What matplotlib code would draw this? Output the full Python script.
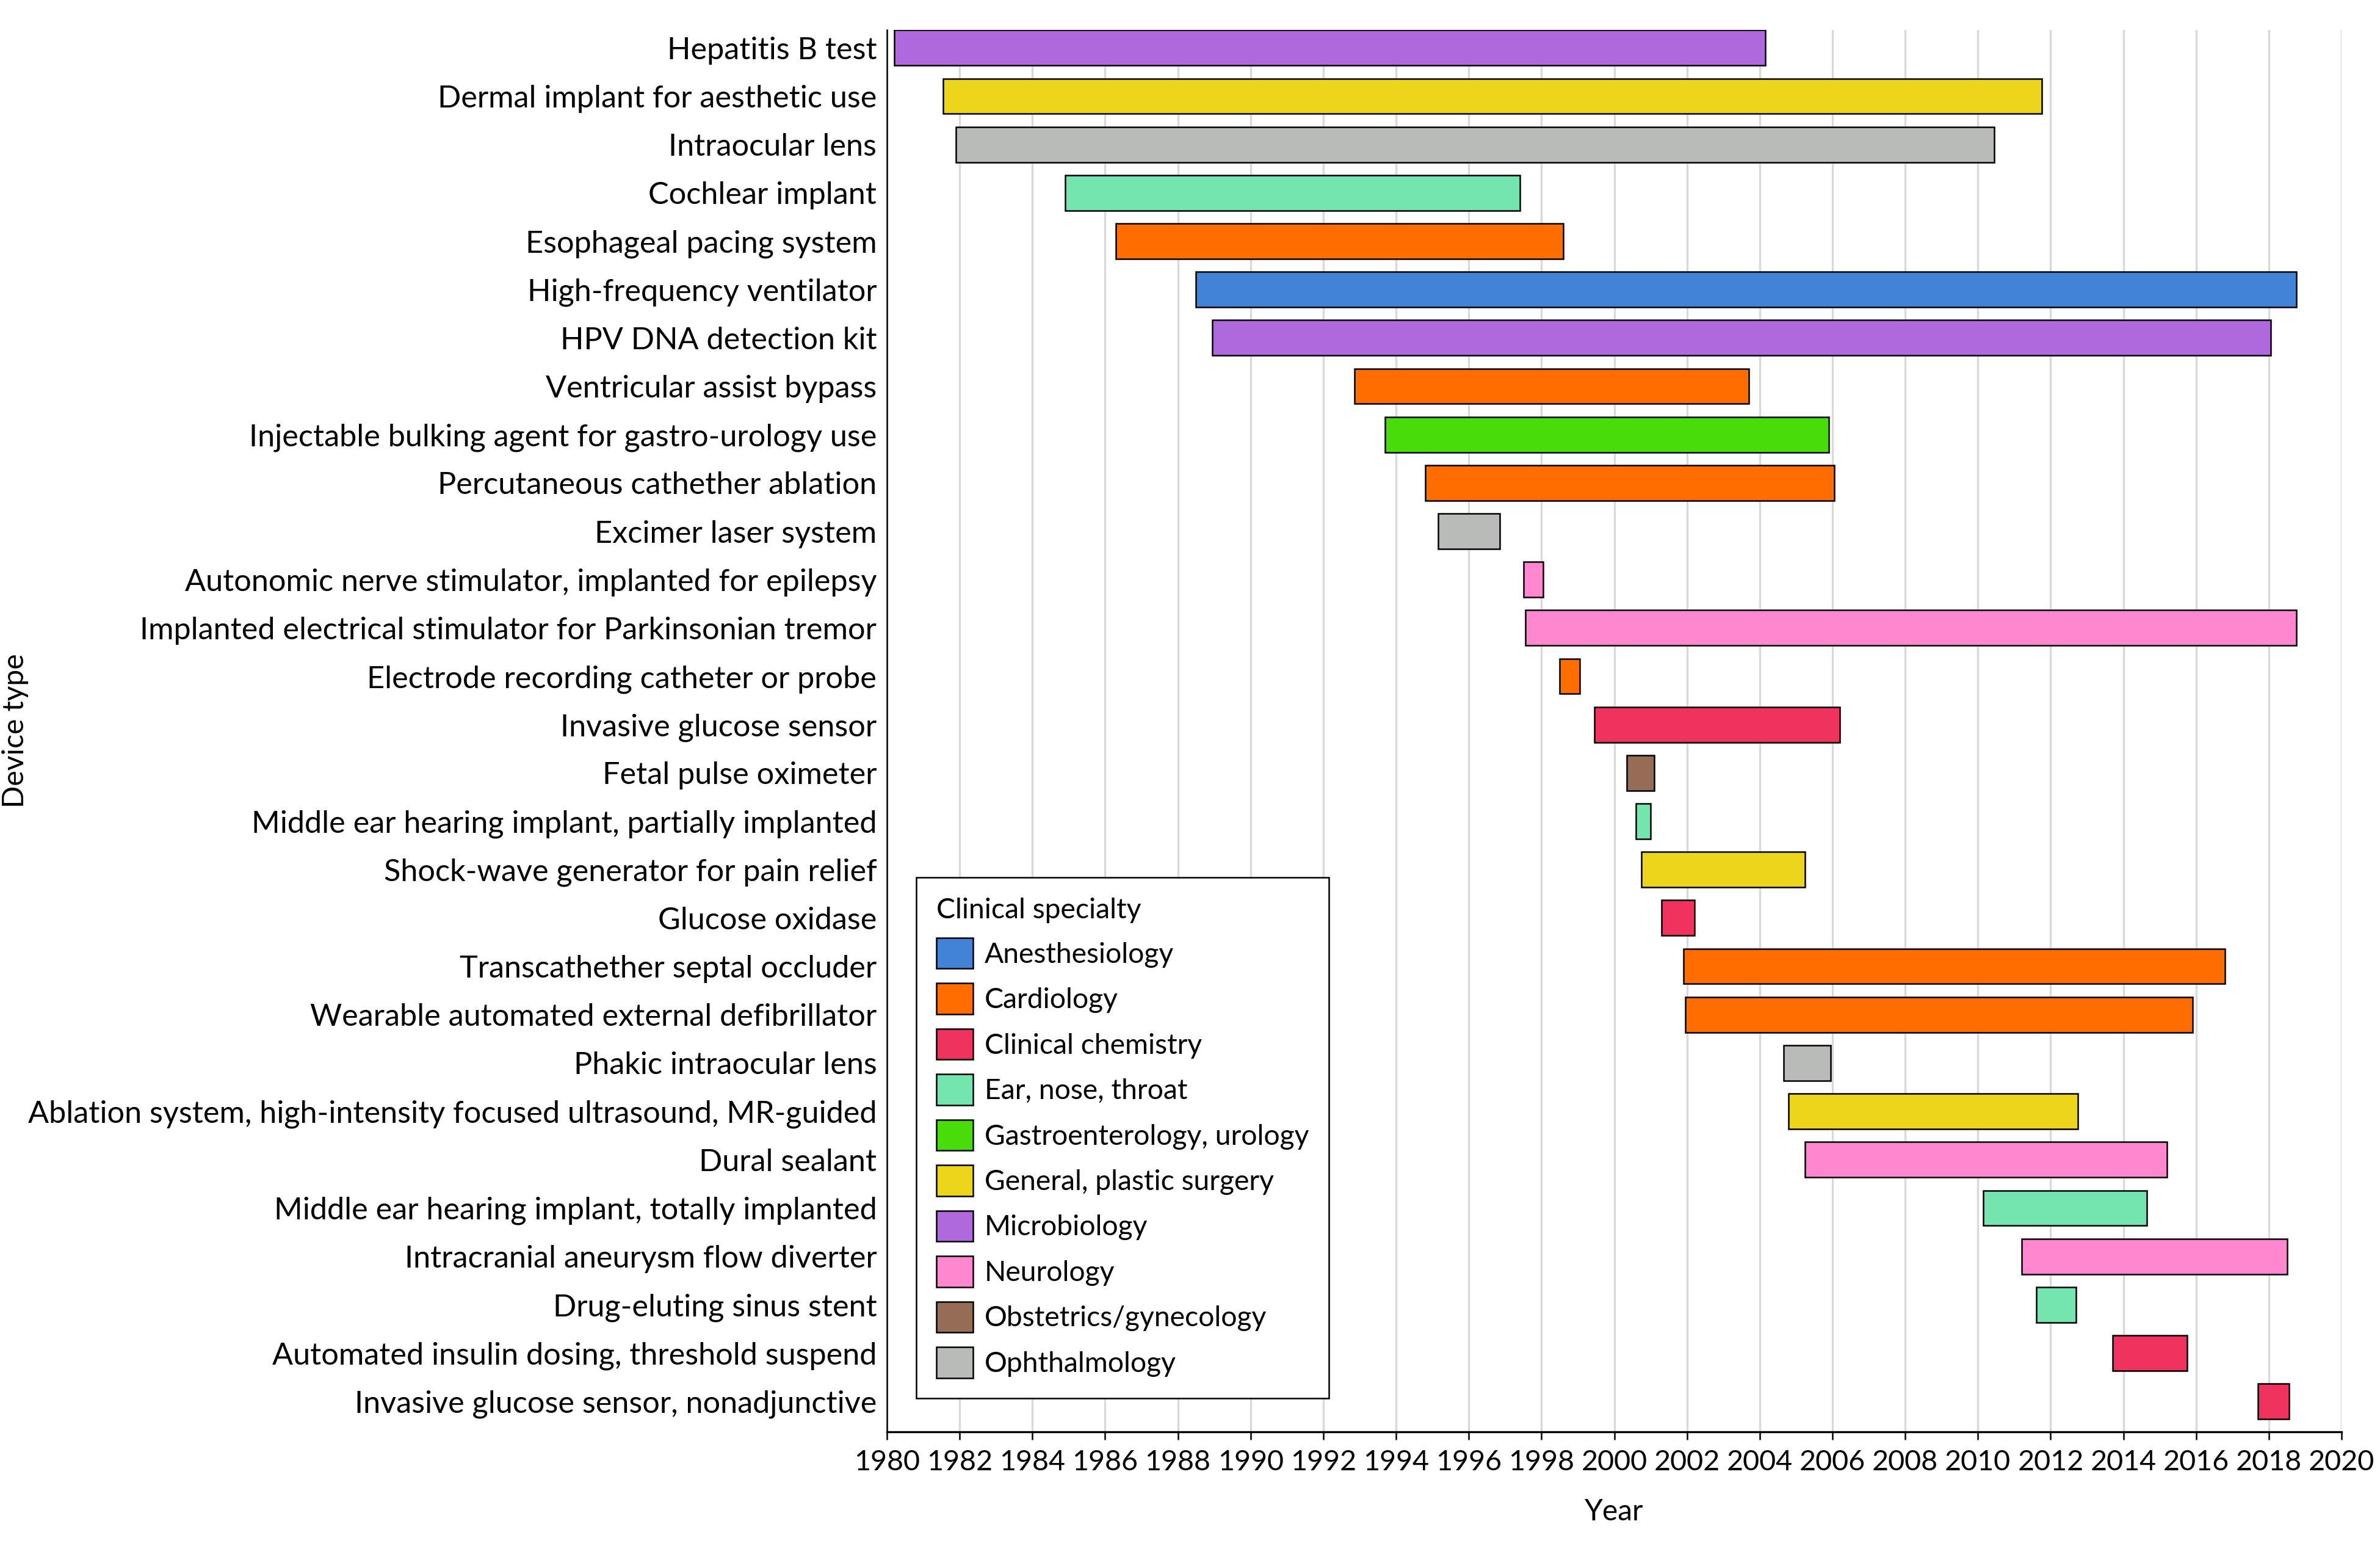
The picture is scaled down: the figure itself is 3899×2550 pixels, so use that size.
import numpy as np
import matplotlib
matplotlib.use("Agg")
import matplotlib.pyplot as plt
from matplotlib.patches import Patch

plt.rcParams['font.family'] = ['Lato', 'DejaVu Sans']

devices = [
    "Hepatitis B test",
    "Dermal implant for aesthetic use",
    "Intraocular lens",
    "Cochlear implant",
    "Esophageal pacing system",
    "High-frequency ventilator",
    "HPV DNA detection kit",
    "Ventricular assist bypass",
    "Injectable bulking agent for gastro-urology use",
    "Percutaneous cathether ablation",
    "Excimer laser system",
    "Autonomic nerve stimulator, implanted for epilepsy",
    "Implanted electrical stimulator for Parkinsonian tremor",
    "Electrode recording catheter or probe",
    "Invasive glucose sensor",
    "Fetal pulse oximeter",
    "Middle ear hearing implant, partially implanted",
    "Shock-wave generator for pain relief",
    "Glucose oxidase",
    "Transcathether septal occluder",
    "Wearable automated external defibrillator",
    "Phakic intraocular lens",
    "Ablation system, high-intensity focused ultrasound, MR-guided",
    "Dural sealant",
    "Middle ear hearing implant, totally implanted",
    "Intracranial aneurysm flow diverter",
    "Drug-eluting sinus stent",
    "Automated insulin dosing, threshold suspend",
    "Invasive glucose sensor, nonadjunctive",
]

start_year = [1980.2, 1981.55, 1981.9, 1984.9, 1986.3, 1988.5, 1988.95, 1992.85,
              1993.7, 1994.8, 1995.15, 1997.5, 1997.55, 1998.5, 1999.45, 2000.35,
              2000.6, 2000.75, 2001.3, 2001.9, 2001.95, 2004.65, 2004.8, 2005.25,
              2010.15, 2011.2, 2011.6, 2013.7, 2017.7]
end_year = [2004.15, 2011.75, 2010.45, 1997.4, 1998.6, 2018.75, 2018.05, 2003.7,
            2005.9, 2006.05, 1996.85, 1998.05, 2018.75, 1999.05, 2006.2, 2001.1,
            2001.0, 2005.25, 2002.2, 2016.8, 2015.9, 2005.95, 2012.75, 2015.2,
            2014.65, 2018.5, 2012.7, 2015.75, 2018.55]

specialty = ["Microbiology", "General, plastic surgery", "Ophthalmology", "Ear, nose, throat",
             "Cardiology", "Anesthesiology", "Microbiology", "Cardiology",
             "Gastroenterology, urology", "Cardiology", "Ophthalmology", "Neurology",
             "Neurology", "Cardiology", "Clinical chemistry", "Obstetrics/gynecology",
             "Ear, nose, throat", "General, plastic surgery", "Clinical chemistry", "Cardiology",
             "Cardiology", "Ophthalmology", "General, plastic surgery", "Neurology",
             "Ear, nose, throat", "Neurology", "Ear, nose, throat", "Clinical chemistry",
             "Clinical chemistry"]

specialties = ["Anesthesiology", "Cardiology", "Clinical chemistry", "Ear, nose, throat",
               "Gastroenterology, urology", "General, plastic surgery", "Microbiology",
               "Neurology", "Obstetrics/gynecology", "Ophthalmology"]
spec_colors = ["#4283d8", "#ff6c00", "#f0325f", "#74e5af", "#48dc0a",
               "#edd51b", "#b068dd", "#ff87cf", "#956c55", "#b9bbb9"]
color_map = dict(zip(specialties, spec_colors))

fig = plt.figure(figsize=(3899 / 300, 2550 / 300), dpi=300)
ax = fig.add_axes([1453 / 3899, 205 / 2550, (3836 - 1453) / 3899, (2345 - 49) / 2550])

y = np.arange(len(devices))
widths = np.array(end_year) - np.array(start_year)
ax.barh(y, widths, left=start_year, height=0.73,
        color=[color_map[s] for s in specialty], edgecolor="black", linewidth=0.6, zorder=3)

ax.set_xlim(1980, 2020)
ax.set_ylim(len(devices) - 0.37, -0.37)
ax.set_xticks(np.arange(1980, 2021, 2))
ax.set_yticks(y)
ax.set_yticklabels(devices)
ax.grid(axis="x", color="#d9d9d9", linewidth=0.8, zorder=0)
ax.set_axisbelow(True)

for s in ["top", "right"]:
    ax.spines[s].set_visible(False)
ax.spines["left"].set_linewidth(0.6)
ax.spines["bottom"].set_linewidth(0.8)
ax.tick_params(axis="y", length=0, pad=4, labelsize=12.1)
ax.tick_params(axis="x", length=3, width=0.6, pad=4, labelsize=11.2)

ax.set_xlabel("Year", fontsize=11.5, labelpad=9)
ax.set_ylabel("Device type", fontsize=11.5)
ax.yaxis.set_label_coords(-0.59, 0.5)

handles = [Patch(facecolor=c, edgecolor="black", linewidth=0.6) for c in spec_colors]
leg = ax.legend(handles, specialties, title="Clinical specialty", loc="lower left",
                bbox_to_anchor=(0.02, 0.024), borderaxespad=0, fontsize=11.1, title_fontsize=11.1,
                handlelength=1.3, handleheight=1.3, labelspacing=0.52, handletextpad=0.4,
                fancybox=False, framealpha=1, edgecolor="black", borderpad=0.72)
leg._legend_box.align = "left"
leg.get_frame().set_linewidth(0.6)

fig.savefig("out.png", dpi=300)
